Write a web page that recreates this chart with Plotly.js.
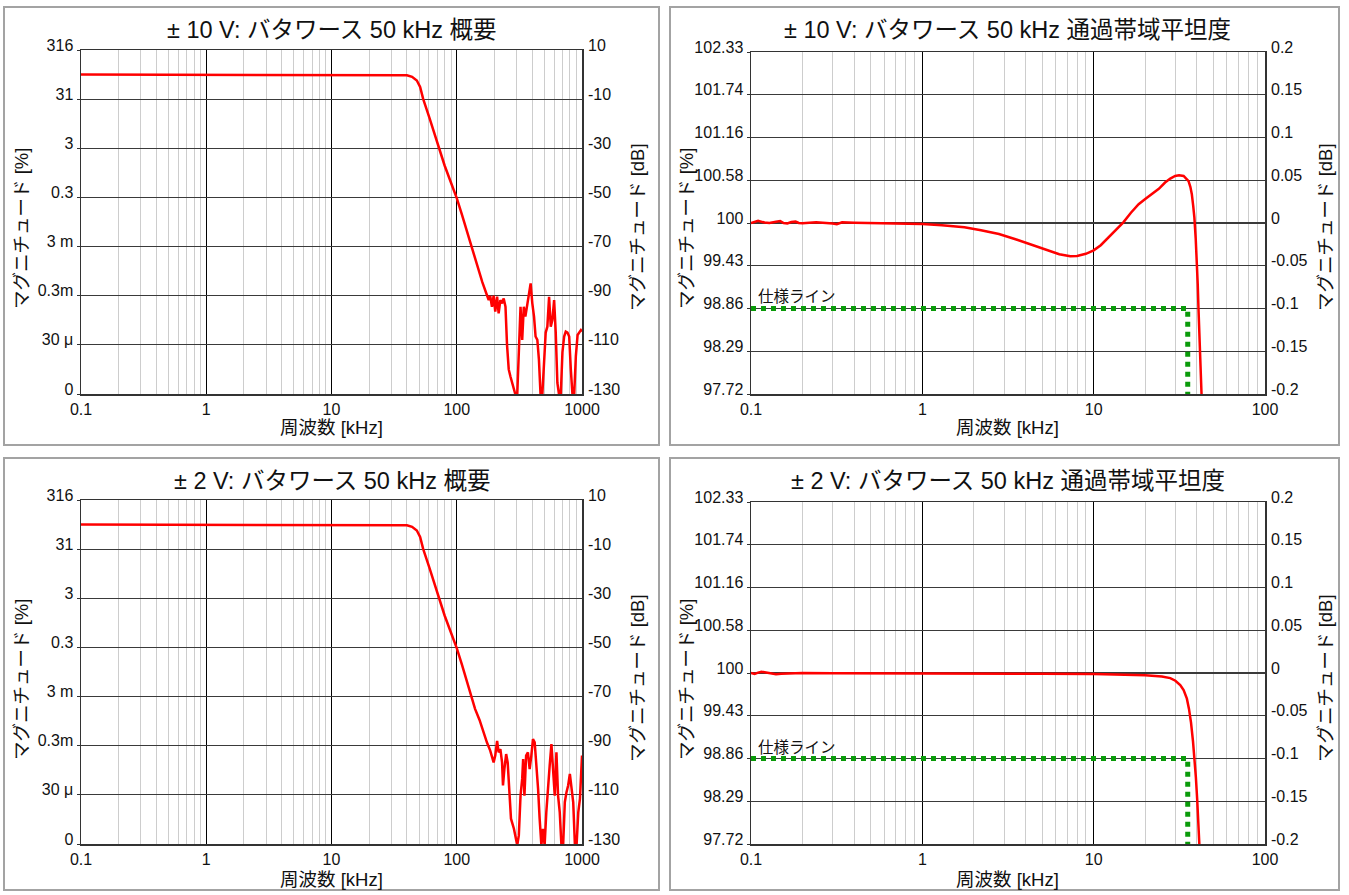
<!DOCTYPE html>
<html><head><meta charset="utf-8">
<script src="https://cdn.plot.ly/plotly-3.0.1.min.js"></script>
<style>html,body{margin:0;padding:0;background:#fff}#chart{width:1349px;height:895px}</style>
</head><body><div id="chart"></div>
<script>
// ---------- data ----------
// Overview ±10 V (frequency kHz, magnitude dB)
const ov10Freq = [0.1, 0.2, 0.5, 1, 2, 5, 10, 20, 30, 35, 40, 44, 48, 51, 54, 60, 71, 80, 90, 100, 110, 120, 130, 140, 150, 160,
  174, 180, 185, 191, 197, 203, 210, 216, 223, 230, 237, 245, 252, 260, 268, 286, 295, 304, 313, 323, 333, 343, 353, 364, 377, 389, 401, 414, 426, 440, 453, 467, 482, 497, 513, 529, 546, 563, 580, 599, 617, 636, 657, 677, 698, 720, 742, 766, 790, 814, 840, 866, 893, 922, 950, 980, 1000];
const ov10Db = [0, 0, 0, 0, 0, 0, 0, 0, -0.02, -0.06, -0.25, -0.9, -2.4, -5, -10, -17, -29, -37, -44, -50.3, -57, -63.5, -69.5, -75, -80, -84.5,
  -89.7, -91.8, -90.1, -94.5, -90, -96.5, -90.4, -97.2, -91.8, -93.1, -91.1, -94.5, -110, -120, -122.8, -128, -130.5, -130.5, -113, -94.5, -108, -94.5, -98.5, -93.8, -87.7, -85, -93, -98.5, -106.6, -108, -116, -130.5, -130.5, -116, -105, -102.6, -90.4, -102.6, -99.9, -91.8, -105, -125.5, -130.5, -130.5, -113, -106.6, -104.6, -105, -106.6, -120, -130.5, -130.5, -114.7, -106, -105, -104, -104.6];

// Overview ±2 V
const ov2Freq = [0.1, 0.2, 0.5, 1, 2, 5, 10, 20, 30, 35, 40, 44, 48, 51, 54, 60, 71, 80, 90, 100, 110, 120, 130, 140, 152,
  163, 174, 185, 197, 203, 210, 216, 223, 230, 234, 240, 248, 255, 263, 271, 286, 295, 304, 313, 323, 333, 339, 347, 358, 370, 382, 394, 406, 419, 432, 446, 459, 474, 488, 503, 519, 535, 552, 570, 587, 606, 625, 644, 664, 685, 707, 729, 752, 775, 800, 825, 851, 878, 905, 934, 963, 1000];
const ov2Db = [0, 0, 0, 0, 0, 0, 0, 0, -0.02, -0.06, -0.25, -0.9, -2.4, -5, -10, -17, -29, -37, -44, -50.3, -57, -63.5, -69.5, -75, -79.5,
  -84.5, -88.6, -92, -96.8, -94, -88, -92.7, -91.4, -96.8, -106.2, -99.5, -93.4, -96.8, -110.3, -119.7, -123.8, -127.2, -130.5, -126.5, -110.3, -103.5, -95.4, -110.3, -94, -92.7, -99.5, -94, -87.3, -88.6, -96.8, -107.6, -119.7, -130.5, -123.8, -130.5, -117, -106.2, -98.1, -89.3, -99.5, -110.3, -92.7, -110.3, -117, -130.5, -130.5, -113, -108.9, -106.2, -101.5, -107.6, -113, -130.5, -130.5, -117, -111.6, -94];

// Passband flatness ±10 V
const fl10Freq = [0.1, 0.11, 0.12, 0.128, 0.14, 0.148, 0.155, 0.163, 0.172, 0.182, 0.19, 0.2, 0.24, 0.28, 0.3, 0.317, 0.34, 0.4, 0.5, 0.62, 0.8, 1.0, 1.3, 1.76, 2.2, 2.8, 3.5, 4.46, 5.5, 6.3, 7.3, 8.0, 9.0, 10.0, 11, 12.2, 13.5, 14.9, 16.5, 18.3, 20, 21.9, 24, 26.1, 28, 29.9, 31.5, 33.5, 35, 35.8, 36.7, 37.4, 38.1, 38.7, 39.4, 40, 40.5, 40.9, 41.7, 42.7, 43.5];
const fl10Db = [0.0, 0.0025, 0.0005, 0.0, 0.0015, 0.0022, 0.0, -0.0005, 0.0012, 0.0016, 0.0, -0.0003, 0.0008, 0.0004, -0.0005, -0.0015, 0.0008, 0.0003, 0.0, -0.0004, -0.0006, -0.0012, -0.0025, -0.005, -0.0085, -0.0128, -0.019, -0.0265, -0.033, -0.0365, -0.039, -0.0385, -0.036, -0.032, -0.026, -0.0167, -0.008, 0.0008, 0.012, 0.022, 0.028, 0.0337, 0.04, 0.0473, 0.052, 0.055, 0.0558, 0.055, 0.051, 0.049, 0.042, 0.0337, 0.02, 0.0066, -0.018, -0.0438, -0.072, -0.1, -0.148, -0.199, -0.25];

// Passband flatness ±2 V
const fl2Freq = [0.1, 0.105, 0.11, 0.115, 0.12, 0.13, 0.14, 0.15, 0.17, 0.2, 0.3, 0.5, 1, 2, 5, 10, 15, 20, 25, 28, 30, 32, 33.5, 35, 36, 37, 38, 38.8, 39.5, 40.2, 40.8, 41.5, 42.3];
const fl2Db = [0.0, -0.001, 0.0005, 0.0015, 0.0008, -0.0008, -0.0015, -0.0008, -0.0003, 0.0, -0.0003, -0.0003, -0.0005, -0.0008, -0.001, -0.0012, -0.0018, -0.0025, -0.004, -0.006, -0.009, -0.014, -0.02, -0.03, -0.042, -0.058, -0.08, -0.1, -0.122, -0.148, -0.17, -0.2, -0.24];

// Spec line (仕様ライン)
const specFreq = [0.1, 35.4, 35.4];
const specDb = [-0.1, -0.1, -0.2];

// Tick values / labels
const ovDbTicks = [10, -10, -30, -50, -70, -90, -110, -130];
const ovPctLabels = ['316', '31', '3', '0.3', '3 m', '0.3m', '30 μ', '0'];
const flDbTicks = [0.2, 0.15, 0.1, 0.05, 0, -0.05, -0.1, -0.15, -0.2];
const flDbLabels = ['0.2', '0.15', '0.1', '0.05', '0', '-0.05', '-0.1', '-0.15', '-0.2'];
const flPctLabels = ['102.33', '101.74', '101.16', '100.58', '100', '99.43', '98.86', '98.29', '97.72'];
const ovFreqTicks = [0.1, 1, 10, 100, 1000];
const flFreqTicks = [0.1, 1, 10, 100];

const titles = ['± 10 V: バタワース 50 kHz 概要', '± 10 V: バタワース 50 kHz 通過帯域平坦度',
                '± 2 V: バタワース 50 kHz 概要', '± 2 V: バタワース 50 kHz 通過帯域平坦度'];

// ---------- layout helpers ----------
const W = 1349, H = 895;
const FONT = 'Liberation Sans, Arial, Noto Sans CJK JP, sans-serif';
const px = x => x / W;
const py = y => 1 - y / H;

// minor (2..9) gridline positions for a log axis spanning the given decades
function minorVals(d0, d1) {
  const out = [];
  for (let d = d0; d < d1; d++) for (let m = 2; m <= 9; m++) out.push(m * Math.pow(10, d));
  return out;
}

// plot areas [left, right, top, bottom] in pixels
const areas = [[81, 582, 50, 394], [751, 1265, 52, 394], [81, 582, 500, 844], [751, 1265, 502, 844]];
const panels = [[4, 659, 7, 445], [670, 1339, 7, 445], [4, 659, 458, 890], [670, 1339, 458, 890]];
const isOv = [true, false, true, false];

const layout = {
  width: W, height: H, margin: {l: 0, r: 0, t: 0, b: 0},
  paper_bgcolor: '#fff', plot_bgcolor: '#fff', showlegend: false,
  font: {family: FONT, size: 16, color: '#111'},
  shapes: [], annotations: []
};

const traces = [];
const series = [[ov10Freq, ov10Db], [fl10Freq, fl10Db], [ov2Freq, ov2Db], [fl2Freq, fl2Db]];

for (let i = 0; i < 4; i++) {
  const n = i + 1, r = i + 5;
  const [l, rr, t, b] = areas[i];
  const ov = isOv[i];
  const xr = ov ? [-1, 3] : [-1, 2];
  const yr = ov ? [-130, 10] : [-0.2, 0.2];
  const suf = n === 1 ? '' : String(n);
  layout['xaxis' + suf] = {
    type: 'log', range: xr, domain: [px(l), px(rr)], anchor: 'y' + suf,
    tickvals: ov ? ovFreqTicks : flFreqTicks, ticktext: (ov ? ovFreqTicks : flFreqTicks).map(String),
    showgrid: true, gridcolor: '#000', gridwidth: 1,
    minor: {tickmode: 'array', tickvals: minorVals(xr[0], xr[1]), showgrid: true, gridcolor: '#cdcdcd', gridwidth: 1, ticks: ''},
    showline: true, mirror: true, linecolor: '#333', linewidth: 1.5,
    ticks: '', tickfont: {size: 16, family: FONT}, zeroline: false, fixedrange: true
  };
  layout['yaxis' + suf] = {
    range: yr, domain: [py(b), py(t)], anchor: 'x' + suf,
    tickvals: ov ? ovDbTicks : flDbTicks, ticktext: ov ? ovPctLabels : flPctLabels,
    showgrid: true, gridcolor: '#3a3a3a', gridwidth: 1.2,
    showline: true, mirror: true, linecolor: '#333', linewidth: 1.5,
    ticks: 'outside', ticklen: 3, tickcolor: '#333', ticklabelshift: -5,
    tickfont: {size: 16, family: FONT}, zeroline: false, fixedrange: true
  };
  layout['yaxis' + r] = {
    range: yr, overlaying: 'y' + suf, side: 'right', anchor: 'x' + suf,
    tickvals: ov ? ovDbTicks : flDbTicks, ticktext: ov ? ovDbTicks.map(String) : flDbLabels,
    showgrid: false, showline: false, ticks: '', ticklabelshift: -5, ticklabelstandoff: 5,
    tickfont: {size: 16, family: FONT}, zeroline: false, fixedrange: true
  };

  const xs = 'x' + suf, ys = 'y' + suf;
  if (!ov) {
    traces.push({x: specFreq, y: specDb, xaxis: xs, yaxis: ys, mode: 'lines',
      line: {color: '#0a9a0a', width: 5, dash: '5px,5px'}, hoverinfo: 'skip'});
  }
  traces.push({x: series[i][0], y: series[i][1], xaxis: xs, yaxis: ys, mode: 'lines',
    line: {color: '#ff0000', width: 2.5}, hoverinfo: 'skip'});
  // transparent copy to carry the right-hand dB axis
  traces.push({x: series[i][0], y: series[i][1], xaxis: xs, yaxis: 'y' + r, mode: 'lines',
    line: {color: 'rgba(0,0,0,0)', width: 0}, hoverinfo: 'skip'});

  // panel frame
  const [pl, pr, pt, pb] = panels[i];
  layout.shapes.push({type: 'rect', xref: 'paper', yref: 'paper', x0: px(pl), x1: px(pr), y0: py(pb), y1: py(pt),
    line: {color: '#a3a3a3', width: 2}, layer: 'below'});

  const cx = (l + rr) / 2;
  const topOff = i < 2 ? 0 : 451;
  // title
  layout.annotations.push({xref: 'paper', yref: 'paper', x: px(cx), y: py(30 + topOff), text: titles[i],
    showarrow: false, xanchor: 'center', yanchor: 'middle', font: {size: 23.5, family: FONT, color: '#111'}});
  // x title
  layout.annotations.push({xref: 'paper', yref: 'paper', x: px(cx), y: py(428 + topOff), text: '周波数 [kHz]',
    showarrow: false, xanchor: 'center', yanchor: 'middle', font: {size: 18.5, family: FONT, color: '#111'}});
  // y titles
  const lx = ov ? 21 : 686, rx = ov ? 637 : 1325;
  layout.annotations.push({xref: 'paper', yref: 'paper', x: px(lx), y: py(229 + topOff), text: 'マグニチュード [%]',
    textangle: -90, showarrow: false, xanchor: 'center', yanchor: 'middle', font: {size: 18.5, family: FONT, color: '#111'}});
  layout.annotations.push({xref: 'paper', yref: 'paper', x: px(rx), y: py(227 + topOff), text: 'マグニチュード [dB]',
    textangle: -90, showarrow: false, xanchor: 'center', yanchor: 'middle', font: {size: 18.5, family: FONT, color: '#111'}});
  if (!ov) {
    layout.annotations.push({xref: xs, yref: 'paper', x: -1, y: py(296 + topOff), text: '仕様ライン',
      showarrow: false, xanchor: 'left', xshift: 5, yanchor: 'middle', font: {size: 15.5, family: FONT, color: '#111'}});
  }
}

Plotly.newPlot('chart', traces, layout, {staticPlot: true, displayModeBar: false});
</script></body></html>
